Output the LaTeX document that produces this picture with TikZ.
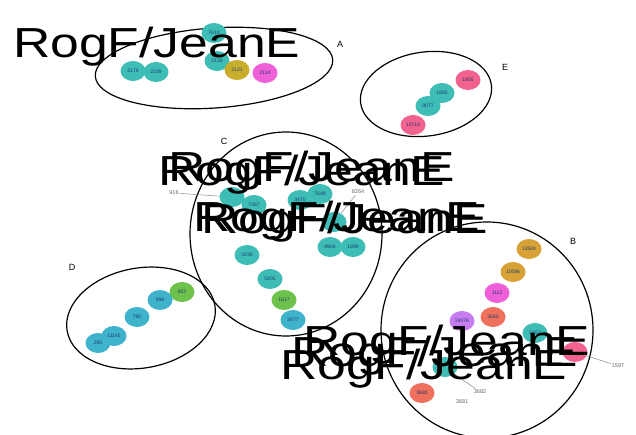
\documentclass[tikz,border=0pt]{standalone}
\usepackage{fontspec}
\setmainfont{Liberation Sans}
\usetikzlibrary{shapes.geometric}
\definecolor{teal1}{HTML}{3DBDB6}
\definecolor{teal2}{HTML}{3FB3CC}
\definecolor{olive1}{HTML}{C9AE2E}
\definecolor{mag1}{HTML}{EE5FD9}
\definecolor{pink1}{HTML}{F2628F}
\definecolor{green1}{HTML}{6CC24A}
\definecolor{gold1}{HTML}{D9A236}
\definecolor{salmon1}{HTML}{F0705E}
\definecolor{purple1}{HTML}{C77CF2}
\definecolor{navy1}{HTML}{1D3C6E}
\tikzset{
  blob/.style={ellipse, minimum width=25pt, minimum height=20pt, inner sep=0pt,
    font=\fontsize{5}{5}\selectfont, text=navy1},
  grp/.style={draw=black, line width=1.2pt, ellipse, inner sep=0pt},
  bigtxt/.style={font=\fontsize{42}{42}\selectfont, xscale=1.23, anchor=base west, inner sep=0pt},
  tag/.style={font=\fontsize{5.5}{6}\selectfont, text=black!60, inner sep=1pt},
  grplbl/.style={font=\fontsize{9}{9}\selectfont, inner sep=0pt},
  lead/.style={draw=black!55, line width=0.4pt}
}
\begin{document}
\begin{tikzpicture}[x=1pt, y=-1pt]
\useasboundingbox (0,0) rectangle (636,435);

% cluster outlines
\node[grp, minimum width=238pt, minimum height=80pt, rotate=4] (gA) at (214,68) {};
\node[grp, minimum width=132pt, minimum height=84pt, rotate=8] (gE) at (426,94) {};
\node[grp, minimum width=192pt, minimum height=204pt] (gC) at (286,234) {};
\node[grp, minimum width=150pt, minimum height=100pt, rotate=10] (gD) at (141,318) {};
\node[grp, minimum width=212pt, minimum height=216pt] (gB) at (487,330) {};

% cluster letters
\node[grplbl] (lA) at (340,44) {A};
\node[grplbl] (lE) at (505,67) {E};
\node[grplbl] (lC) at (224,141) {C};
\node[grplbl] (lD) at (72,267) {D};
\node[grplbl] (lB) at (573,241) {B};

% cluster A
\node[blob, fill=teal1] (a2179) at (133,71) {2179};
\node[blob, fill=teal1] (a2339) at (156,72) {2339};
\node[blob, fill=teal1] (a7610) at (214,33) {7610};
\node[blob, fill=teal1] (a2130) at (217,61) {2130};
\node[blob, fill=olive1] (a2121) at (237,70) {2121};
\node[blob, fill=mag1] (a2114) at (265,73) {2114};

% cluster E
\node[blob, fill=pink1] (e1805) at (468,80) {1805};
\node[blob, fill=teal1] (e1882) at (442,93) {1882};
\node[blob, fill=teal1] (e9077) at (428,106) {9077};
\node[blob, fill=pink1] (e10719) at (413,125) {10719};

% cluster C
\node[blob, fill=teal1] (c0) at (232,197) {};
\node[blob, fill=teal1] (c7367) at (254,205) {7367};
\node[blob, fill=teal1] (c3470) at (300,200) {3470};
\node[blob, fill=teal1] (c7648) at (320,194) {7648};
\node[blob, fill=teal1] (c1) at (334,222) {};
\node[blob, fill=teal1] (c9904) at (330,247) {9904};
\node[blob, fill=teal1] (c1989) at (353,247) {1989};
\node[blob, fill=teal1] (c3435) at (247,255) {3435};
\node[blob, fill=teal1] (c5405) at (270,279) {5405};
\node[blob, fill=green1] (c1617) at (284,300) {1617};
\node[blob, fill=teal2] (c3877) at (293,320) {3877};
\node[tag] (t916) at (174,193) {916};
\node[tag] (t8264) at (358,192) {8264};
\draw[lead] (t916) -- (c0);
\draw[lead] (t8264) -- (c1);

% cluster D
\node[blob, fill=green1] (d922) at (182,292) {922};
\node[blob, fill=teal2] (d998) at (160,300) {998};
\node[blob, fill=teal2] (d790) at (137,317) {790};
\node[blob, fill=teal2] (d11145) at (114,336) {11145};
\node[blob, fill=teal2] (d285) at (98,343) {285};

% cluster B
\node[blob, fill=gold1] (b13504) at (529,249) {13504};
\node[blob, fill=gold1] (b10096) at (513,272) {10096};
\node[blob, fill=mag1] (b1113) at (497,293) {1113};
\node[blob, fill=salmon1] (b3662) at (493,317) {3662};
\node[blob, fill=purple1] (b24076) at (462,321) {24076};
\node[blob, fill=teal1] (b5457) at (535,333) {5457};
\node[blob, fill=pink1] (b0) at (575,352) {};
\node[blob, fill=teal1] (b1) at (445,367) {};
\node[blob, fill=salmon1] (b3680) at (422,393) {3680};
\node[tag] (t3682) at (480,392) {3682};
\node[tag] (t3681) at (462,402) {3681};
\node[tag] (t1597) at (618,366) {1597};
\draw[lead] (t1597) -- (b0);
\draw[lead] (t3682) -- (b1);

% overlapping pair labels
\node[bigtxt] (r1) at (13,58) {RogF/JeanE};
\node[bigtxt] (r2) at (168,182) {RogF/JeanE};
\node[bigtxt] (r3) at (158,186) {RogF/JeanE};
\node[bigtxt] (r4) at (193,232) {RogF/JeanE};
\node[bigtxt] (r5) at (201,234) {RogF/JeanE};
\node[bigtxt] (r6) at (303,355) {RogF/JeanE};
\node[bigtxt] (r7) at (291,366) {RogF/JeanE};
\node[bigtxt] (r8) at (280,379) {RogF/JeanE};
\end{tikzpicture}
\end{document}
